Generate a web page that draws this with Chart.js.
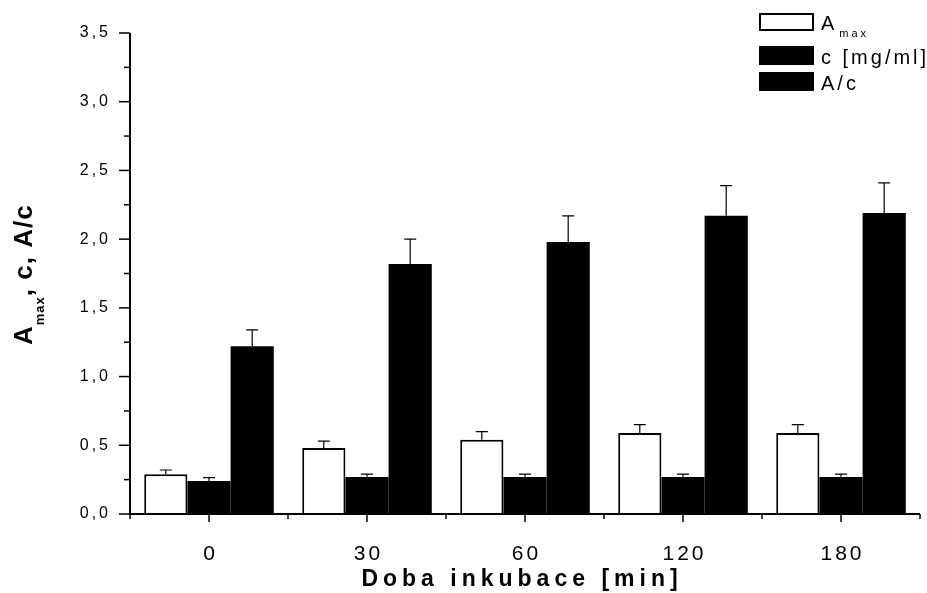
<!DOCTYPE html>
<html>
<head>
<meta charset="utf-8">
<script src="https://cdn.jsdelivr.net/npm/chart.js@4.4.0/dist/chart.umd.min.js"></script>
<style>body{margin:0;background:#fff}</style>
</head>
<body>
<canvas id="myChart" width="927" height="593"></canvas>
<script>
// doba inkubace [min]
var categories = ["0", "30", "60", "120", "180"];
var amax = [0.29, 0.48, 0.54, 0.59, 0.59];
var amaxErr = [0.03, 0.05, 0.06, 0.06, 0.06];
var conc = [0.24, 0.27, 0.27, 0.27, 0.27];
var concErr = [0.025, 0.02, 0.02, 0.02, 0.02];
var ratio = [1.22, 1.82, 1.98, 2.17, 2.19];
var ratioErr = [0.12, 0.18, 0.19, 0.22, 0.22];
var yTicks = [0, 0.5, 1, 1.5, 2, 2.5, 3, 3.5];

var FONT = '"Liberation Sans", Arial, sans-serif';

function label(v) {
  return v.toFixed(1).replace('.', ',');
}

function spaced(ctx, px) {
  if ('letterSpacing' in ctx) ctx.letterSpacing = px + 'px';
}

// error bars, only the upper half like in the original
var errorBars = {
  id: 'errorBars',
  afterDatasetsDraw: function(chart) {
    var ctx = chart.ctx, y = chart.scales.y;
    ctx.save();
    ctx.strokeStyle = '#000';
    ctx.lineWidth = 1.2;
    chart.data.datasets.forEach(function(ds, d) {
      var meta = chart.getDatasetMeta(d);
      meta.data.forEach(function(bar, i) {
        var top = y.getPixelForValue(ds.data[i] + ds.errors[i]);
        ctx.beginPath();
        ctx.moveTo(bar.x, bar.y);
        ctx.lineTo(bar.x, top);
        ctx.moveTo(bar.x - 6, top);
        ctx.lineTo(bar.x + 6, top);
        ctx.stroke();
      });
    });
    ctx.restore();
  }
};

var axes = {
  id: 'axes',
  afterDraw: function(chart) {
    var ctx = chart.ctx, x = chart.scales.x, y = chart.scales.y, a = chart.chartArea;
    ctx.save();
    ctx.strokeStyle = '#000';
    ctx.fillStyle = '#000';

    ctx.lineWidth = 2;
    ctx.beginPath();
    ctx.moveTo(a.left, a.top);
    ctx.lineTo(a.left, a.bottom);
    ctx.lineTo(a.right, a.bottom);
    ctx.stroke();

    // y ticks + labels
    ctx.lineWidth = 1.5;
    ctx.font = '16px ' + FONT;
    spaced(ctx, 3);
    ctx.textAlign = 'right';
    ctx.textBaseline = 'middle';
    yTicks.forEach(function(v, i) {
      var py = y.getPixelForValue(v);
      ctx.beginPath();
      ctx.moveTo(a.left - 11, py);
      ctx.lineTo(a.left, py);
      ctx.stroke();
      ctx.fillText(label(v), a.left - 19, py);
      if (i < yTicks.length - 1) {
        var pm = y.getPixelForValue((v + yTicks[i + 1]) / 2);
        ctx.beginPath();
        ctx.moveTo(a.left - 6, pm);
        ctx.lineTo(a.left, pm);
        ctx.stroke();
      }
    });

    // x ticks + labels
    ctx.font = '21px ' + FONT;
    spaced(ctx, 3);
    ctx.textAlign = 'center';
    ctx.textBaseline = 'alphabetic';
    categories.forEach(function(c, i) {
      var px = x.getPixelForValue(i);
      ctx.beginPath();
      ctx.moveTo(px, a.bottom);
      ctx.lineTo(px, a.bottom + 8);
      ctx.stroke();
      ctx.fillText(c, px + 1.5, 560);
    });
    for (var i = 0; i <= categories.length; i++) {
      var pb = x.getPixelForValue(i - 0.5);
      ctx.beginPath();
      ctx.moveTo(pb, a.bottom);
      ctx.lineTo(pb, a.bottom + 5);
      ctx.stroke();
    }

    // x title
    ctx.font = 'bold 23px ' + FONT;
    spaced(ctx, 5);
    ctx.fillText('Doba inkubace [min]', (a.left + a.right) / 2 - 3, 586);

    // y title with subscript
    ctx.save();
    ctx.translate(32, 345);
    ctx.rotate(-Math.PI / 2);
    ctx.textAlign = 'left';
    var tx = 0;
    ctx.font = 'bold 26px ' + FONT;
    spaced(ctx, 1);
    ctx.fillText('A', tx, 0);
    tx += ctx.measureText('A').width;
    ctx.font = 'bold 13px ' + FONT;
    ctx.fillText('max', tx, 12);
    tx += ctx.measureText('max').width;
    ctx.font = 'bold 26px ' + FONT;
    ctx.fillText(', c, A/c', tx, 0);
    ctx.restore();

    // legend
    var rows = [
      { y: 14, h: 16, text: 'A', sub: 'max' },
      { y: 47, h: 17, text: 'c [mg/ml]' },
      { y: 73, h: 17, text: 'A/c' }
    ];
    rows.forEach(function(r, d) {
      var ds = chart.data.datasets[d];
      ctx.fillStyle = ds.backgroundColor;
      ctx.fillRect(760, r.y, 53, r.h);
      ctx.lineWidth = 2;
      ctx.strokeStyle = '#000';
      ctx.strokeRect(760, r.y, 53, r.h);
      ctx.fillStyle = '#000';
      ctx.textAlign = 'left';
      ctx.font = '20px ' + FONT;
      spaced(ctx, 3);
      ctx.fillText(r.text, 821, r.y + r.h);
      if (r.sub) {
        var w = ctx.measureText(r.text).width;
        ctx.font = '11px ' + FONT;
        spaced(ctx, 3);
        ctx.fillText(r.sub, 821 + w + 2, r.y + r.h + 7);
      }
    });
    ctx.restore();
  }
};

var ctx = document.getElementById("myChart").getContext('2d');
var myChart = new Chart(ctx, {
  type: 'bar',
  data: {
    labels: categories,
    datasets: [{
      label: 'Amax',
      data: amax,
      errors: amaxErr,
      backgroundColor: '#ffffff',
      borderColor: '#000000',
      borderWidth: 2
    }, {
      label: 'c [mg/ml]',
      data: conc,
      errors: concErr,
      backgroundColor: '#000000',
      borderWidth: 0
    }, {
      label: 'A/c',
      data: ratio,
      errors: ratioErr,
      backgroundColor: '#000000',
      borderWidth: 0
    }]
  },
  options: {
    responsive: false,
    animation: false,
    categoryPercentage: 0.82,
    barPercentage: 1.0,
    layout: { padding: { left: 0, right: 7, top: 33, bottom: 0 } },
    plugins: { legend: { display: false }, tooltip: { enabled: false } },
    scales: {
      x: {
        grid: { display: false },
        border: { display: false },
        ticks: { display: false },
        afterFit: function(s) { s.height = 79; }
      },
      y: {
        min: 0,
        max: 3.5,
        grid: { display: false },
        border: { display: false },
        ticks: { display: false },
        afterFit: function(s) { s.width = 130; }
      }
    }
  },
  plugins: [errorBars, axes]
});
</script>
</body>
</html>
